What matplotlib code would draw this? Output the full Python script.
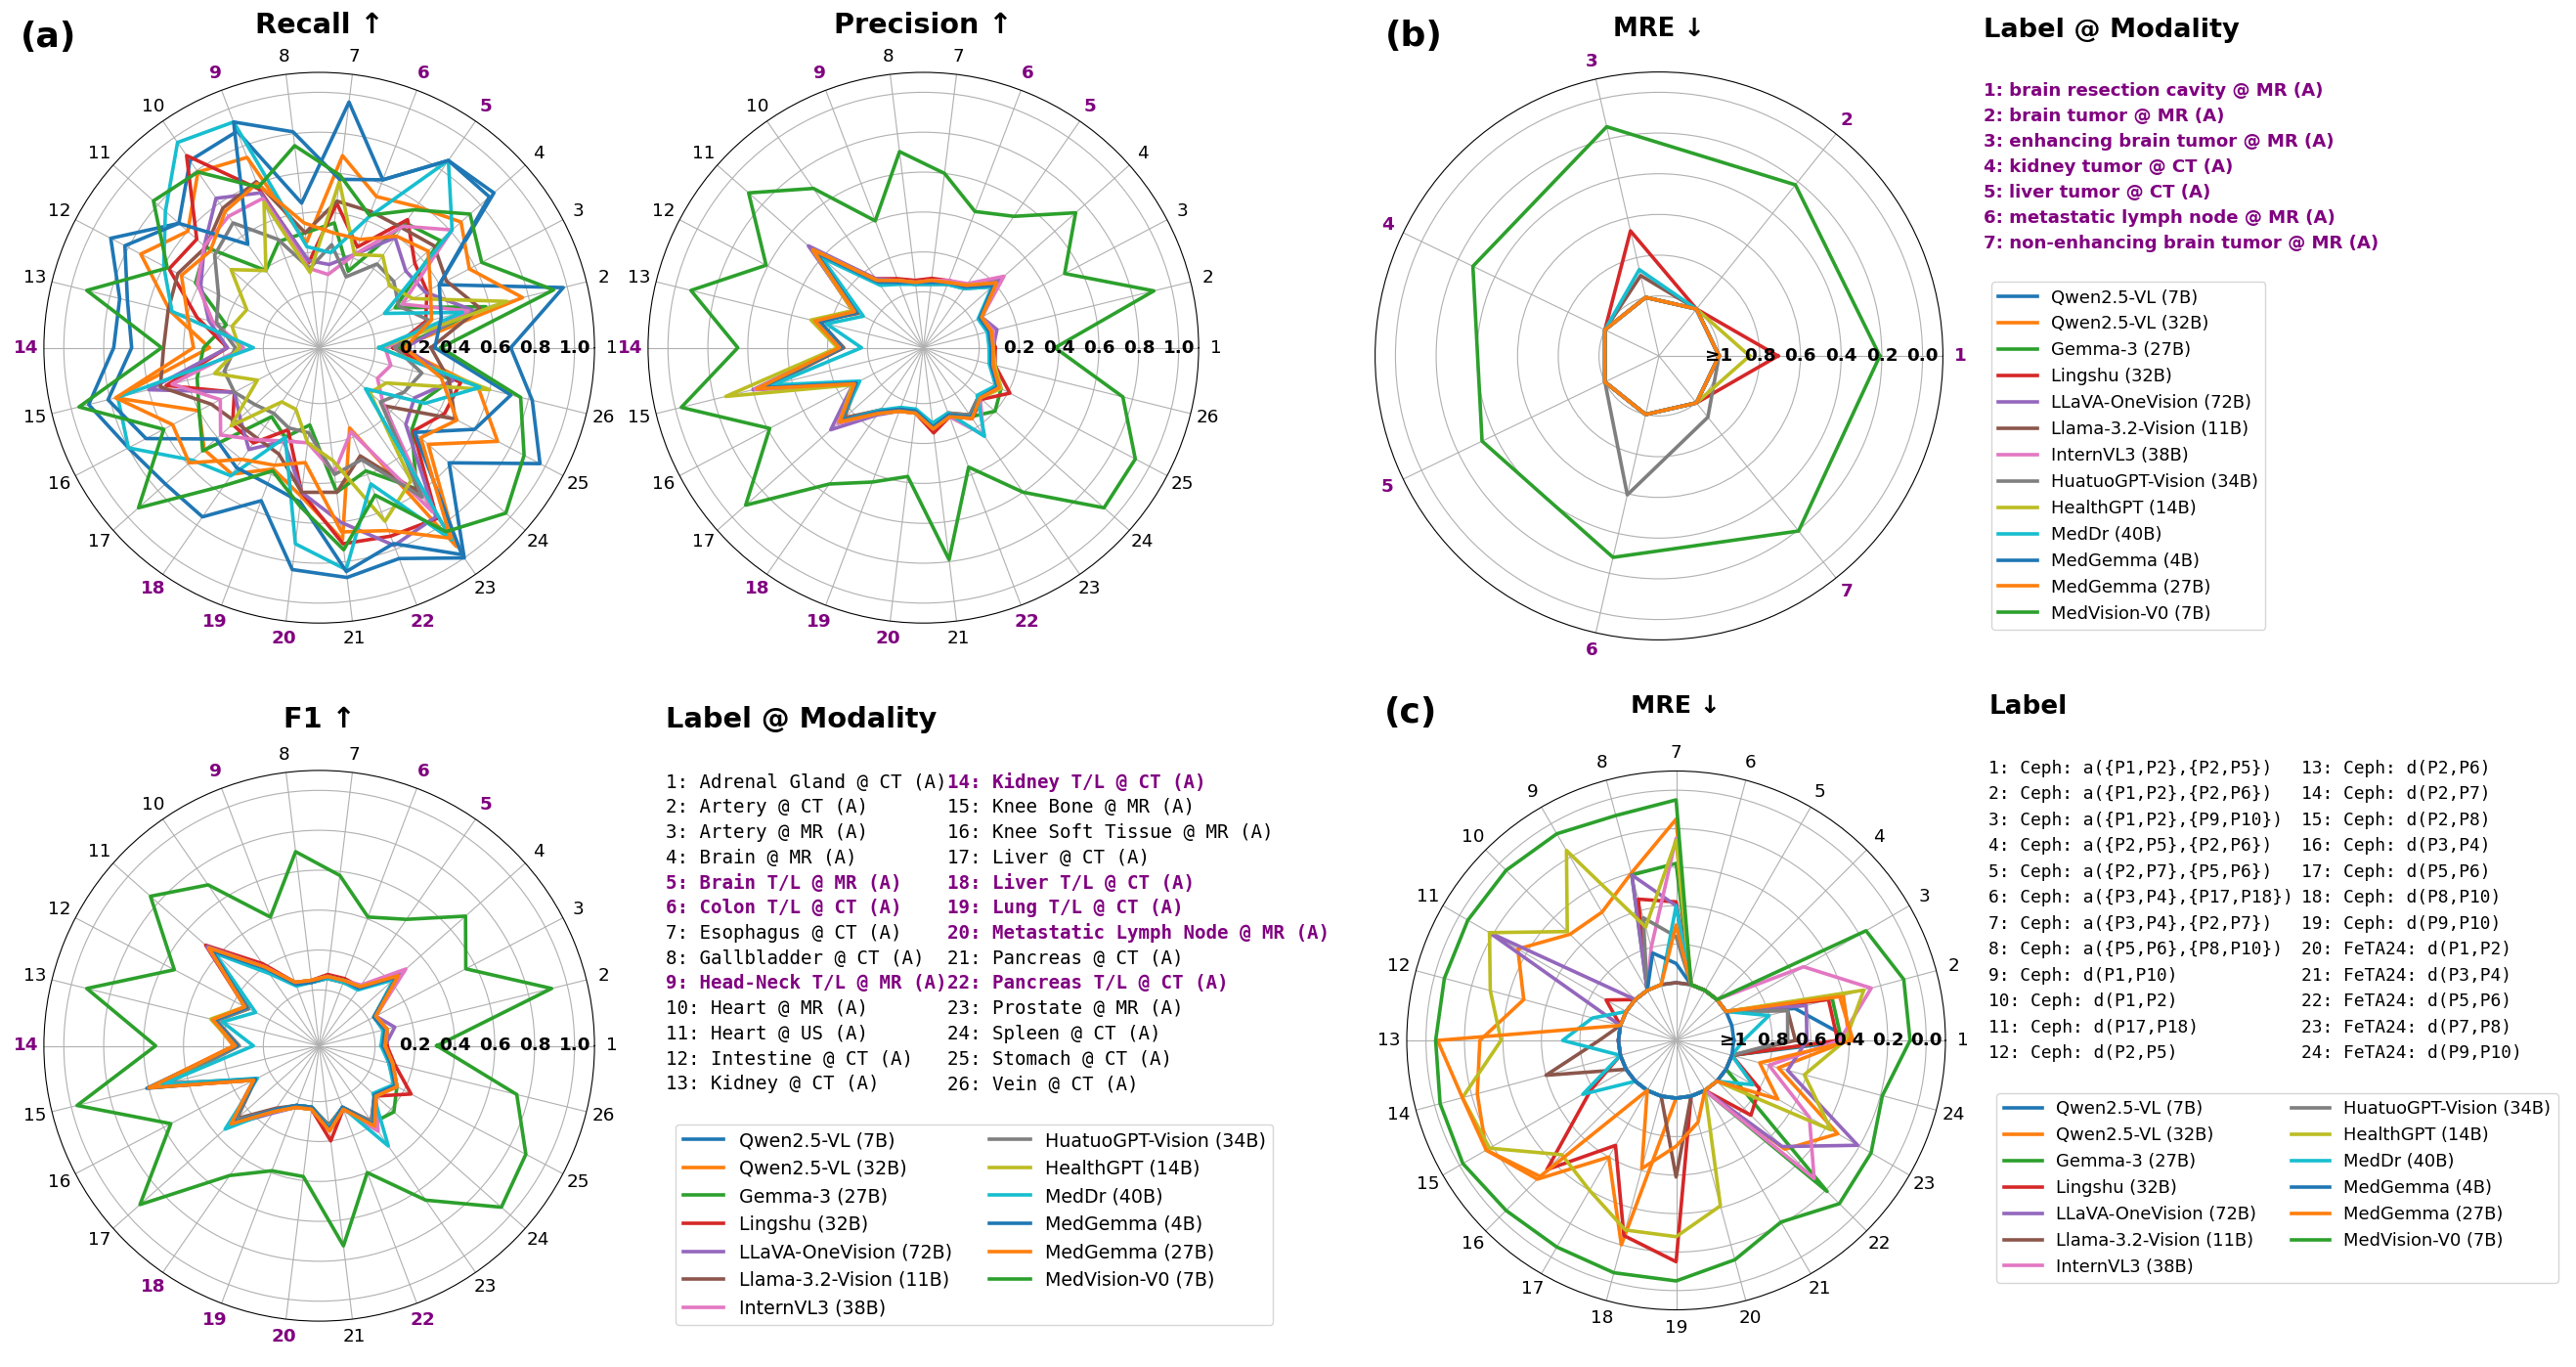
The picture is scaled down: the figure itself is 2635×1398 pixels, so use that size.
import numpy as np
import matplotlib
matplotlib.use("Agg")
import matplotlib.pyplot as plt
from matplotlib.lines import Line2D

# ---------------- data ----------------
models = ["Qwen2.5-VL (7B)", "Qwen2.5-VL (32B)", "Gemma-3 (27B)", "Lingshu (32B)",
          "LLaVA-OneVision (72B)", "Llama-3.2-Vision (11B)", "InternVL3 (38B)",
          "HuatuoGPT-Vision (34B)", "HealthGPT (14B)", "MedDr (40B)", "MedGemma (4B)",
          "MedGemma (27B)", "MedVision-V0 (7B)"]
colors = ["#1f77b4", "#ff7f0e", "#2ca02c", "#d62728", "#9467bd", "#8c564b", "#e377c2",
          "#7f7f7f", "#bcbd22", "#17becf", "#1f77b4", "#ff7f0e", "#2ca02c"]

a_labels = ["Adrenal Gland @ CT (A)", "Artery @ CT (A)", "Artery @ MR (A)", "Brain @ MR (A)",
            "Brain T/L @ MR (A)", "Colon T/L @ CT (A)", "Esophagus @ CT (A)", "Gallbladder @ CT (A)",
            "Head-Neck T/L @ MR (A)", "Heart @ MR (A)", "Heart @ US (A)", "Intestine @ CT (A)",
            "Kidney @ CT (A)", "Kidney T/L @ CT (A)", "Knee Bone @ MR (A)", "Knee Soft Tissue @ MR (A)",
            "Liver @ CT (A)", "Liver T/L @ CT (A)", "Lung T/L @ CT (A)", "Metastatic Lymph Node @ MR (A)",
            "Pancreas @ CT (A)", "Pancreas T/L @ CT (A)", "Prostate @ MR (A)", "Spleen @ CT (A)",
            "Stomach @ CT (A)", "Vein @ CT (A)"]
a_highlight = [5, 6, 9, 14, 18, 19, 20, 22]

b_labels = ["brain resection cavity @ MR (A)", "brain tumor @ MR (A)", "enhancing brain tumor @ MR (A)",
            "kidney tumor @ CT (A)", "liver tumor @ CT (A)", "metastatic lymph node @ MR (A)",
            "non-enhancing brain tumor @ MR (A)"]

c_labels = ["Ceph: a({P1,P2},{P2,P5})", "Ceph: a({P1,P2},{P2,P6})", "Ceph: a({P1,P2},{P9,P10})",
            "Ceph: a({P2,P5},{P2,P6})", "Ceph: a({P2,P7},{P5,P6})", "Ceph: a({P3,P4},{P17,P18})",
            "Ceph: a({P3,P4},{P2,P7})", "Ceph: a({P5,P6},{P8,P10})", "Ceph: d(P1,P10)", "Ceph: d(P1,P2)",
            "Ceph: d(P17,P18)", "Ceph: d(P2,P5)", "Ceph: d(P2,P6)", "Ceph: d(P2,P7)", "Ceph: d(P2,P8)",
            "Ceph: d(P3,P4)", "Ceph: d(P5,P6)", "Ceph: d(P8,P10)", "Ceph: d(P9,P10)", "FeTA24: d(P1,P2)",
            "FeTA24: d(P3,P4)", "FeTA24: d(P5,P6)", "FeTA24: d(P7,P8)", "FeTA24: d(P9,P10)"]

a_rticks = [0.0, 0.2, 0.4, 0.6, 0.8, 1.0]
a_rticklabels = ["", "0.2", "0.4", "0.6", "0.8", "1.0"]
mre_rticks = [0.0, 0.2, 0.4, 0.6, 0.8, 1.0]
mre_rticklabels = ["\u22651", "0.8", "0.6", "0.4", "0.2", "0.0"]

# Recall (26 labels)
recall_qwen7 = [0.68, 0.98, 0.40, 0.89, 0.86, 0.62, 0.96, 0.45, 0.88, 0.86, 0.66, 0.90, 0.75, 0.75, 0.91, 0.80, 0.75, 0.75, 0.54, 0.84, 0.88, 0.85, 1.00, 0.59, 0.97, 0.82]
recall_qwen32 = [0.12, 0.77, 0.57, 0.67, 0.58, 0.53, 0.69, 0.25, 0.74, 0.79, 0.60, 0.73, 0.49, 0.27, 0.77, 0.40, 0.49, 0.49, 0.37, 0.47, 0.69, 0.15, 0.93, 0.45, 0.73, 0.54]
recall_gemma = [0.12, 0.58, 0.15, 0.53, 0.48, 0.13, 0.35, 0.30, 0.29, 0.19, 0.48, 0.42, 0.20, 0.30, 0.35, 0.40, 0.50, 0.14, 0.20, 0.11, 0.45, 0.38, 0.58, 0.34, 0.30, 0.40]
recall_lingshu = [0.09, 0.27, 0.33, 0.36, 0.50, 0.26, 0.45, 0.15, 0.57, 0.89, 0.54, 0.57, 0.35, 0.18, 0.51, 0.20, 0.30, 0.30, 0.16, 0.45, 0.71, 0.73, 0.76, 0.35, 0.43, 0.45]
recall_llava = [0.15, 0.51, 0.32, 0.30, 0.39, 0.22, 0.14, 0.16, 0.55, 0.63, 0.49, 0.39, 0.29, 0.18, 0.60, 0.20, 0.25, 0.34, 0.22, 0.45, 0.60, 0.78, 0.75, 0.30, 0.26, 0.41]
recall_llama = [0.28, 0.55, 0.44, 0.49, 0.45, 0.45, 0.46, 0.30, 0.61, 0.57, 0.48, 0.52, 0.50, 0.50, 0.54, 0.33, 0.28, 0.27, 0.29, 0.45, 0.45, 0.30, 0.60, 0.16, 0.49, 0.39]
recall_intern = [0.05, 0.49, 0.19, 0.61, 0.46, 0.22, 0.09, 0.12, 0.52, 0.52, 0.49, 0.41, 0.27, 0.10, 0.48, 0.28, 0.38, 0.28, 0.22, 0.20, 0.35, 0.17, 0.72, 0.15, 0.05, 0.09]
recall_huatuo = [0.10, 0.29, 0.17, 0.22, 0.23, 0.10, 0.24, 0.12, 0.30, 0.48, 0.42, 0.29, 0.25, 0.14, 0.21, 0.20, 0.15, 0.12, 0.15, 0.15, 0.36, 0.32, 0.63, 0.13, 0.20, 0.25]
recall_healthgpt = [0.02, 0.69, 0.25, 0.19, 0.28, 0.22, 0.56, 0.10, 0.50, 0.19, 0.31, 0.13, 0.17, 0.12, 0.26, 0.07, 0.31, 0.05, 0.05, 0.20, 0.29, 0.65, 0.53, 0.06, 0.10, 0.60]
recall_meddr = [0.02, 0.46, 0.09, 0.61, 0.86, 0.42, 0.20, 0.23, 0.93, 0.97, 0.75, 0.60, 0.48, 0.05, 0.76, 0.80, 0.57, 0.50, 0.20, 0.71, 0.84, 0.45, 0.89, 0.03, 0.32, 0.55]
recall_medgemma4 = [0.30, 0.35, 0.40, 0.86, 0.86, 0.62, 0.57, 0.81, 0.93, 0.35, 0.66, 0.82, 0.71, 0.66, 0.81, 0.70, 0.41, 0.45, 0.45, 0.50, 0.85, 0.77, 0.98, 0.36, 0.60, 0.71]
recall_medgemma27 = [0.15, 0.30, 0.35, 0.45, 0.40, 0.30, 0.30, 0.35, 0.60, 0.55, 0.45, 0.50, 0.40, 0.35, 0.77, 0.55, 0.59, 0.40, 0.35, 0.30, 0.65, 0.70, 0.88, 0.40, 0.50, 0.35]
recall_medvision = [0.33, 0.93, 0.64, 0.73, 0.56, 0.43, 0.59, 0.74, 0.58, 0.79, 0.83, 0.58, 0.92, 0.51, 0.96, 0.60, 0.93, 0.56, 0.38, 0.52, 0.74, 0.51, 0.84, 0.97, 0.88, 0.76]

# Precision
prec_qwen7 = [0.06, 0.06, 0.04, 0.19, 0.09, 0.07, 0.05, 0.04, 0.07, 0.12, 0.44, 0.10, 0.25, 0.12, 0.55, 0.10, 0.26, 0.10, 0.05, 0.04, 0.12, 0.08, 0.13, 0.09, 0.13, 0.07]
prec_qwen32 = [0.07, 0.07, 0.05, 0.21, 0.10, 0.08, 0.06, 0.05, 0.08, 0.13, 0.45, 0.11, 0.27, 0.13, 0.58, 0.12, 0.27, 0.12, 0.06, 0.04, 0.13, 0.09, 0.15, 0.10, 0.15, 0.08]
prec_gemma = [0.06, 0.06, 0.05, 0.20, 0.09, 0.07, 0.05, 0.05, 0.08, 0.12, 0.44, 0.11, 0.26, 0.13, 0.57, 0.10, 0.28, 0.11, 0.05, 0.05, 0.12, 0.08, 0.14, 0.20, 0.16, 0.08]
prec_lingshu = [0.08, 0.07, 0.05, 0.22, 0.10, 0.08, 0.07, 0.06, 0.09, 0.14, 0.47, 0.12, 0.27, 0.14, 0.56, 0.11, 0.29, 0.12, 0.06, 0.05, 0.15, 0.09, 0.15, 0.11, 0.21, 0.09]
prec_llava = [0.07, 0.10, 0.05, 0.24, 0.10, 0.07, 0.05, 0.05, 0.08, 0.14, 0.49, 0.11, 0.28, 0.14, 0.60, 0.12, 0.34, 0.13, 0.06, 0.04, 0.13, 0.08, 0.14, 0.10, 0.15, 0.08]
prec_llama = [0.06, 0.06, 0.04, 0.20, 0.09, 0.06, 0.05, 0.05, 0.07, 0.12, 0.45, 0.09, 0.27, 0.12, 0.52, 0.09, 0.25, 0.10, 0.05, 0.04, 0.11, 0.07, 0.13, 0.09, 0.13, 0.07]
prec_intern = [0.07, 0.08, 0.05, 0.26, 0.11, 0.08, 0.06, 0.05, 0.08, 0.13, 0.46, 0.11, 0.27, 0.13, 0.59, 0.11, 0.29, 0.12, 0.06, 0.05, 0.12, 0.09, 0.25, 0.10, 0.15, 0.08]
prec_huatuo = [0.05, 0.06, 0.04, 0.18, 0.08, 0.06, 0.04, 0.04, 0.07, 0.11, 0.43, 0.10, 0.26, 0.13, 0.55, 0.10, 0.27, 0.11, 0.05, 0.04, 0.11, 0.07, 0.13, 0.09, 0.14, 0.07]
prec_healthgpt = [0.07, 0.07, 0.05, 0.21, 0.10, 0.07, 0.05, 0.05, 0.08, 0.13, 0.46, 0.12, 0.30, 0.15, 0.74, 0.12, 0.28, 0.12, 0.06, 0.05, 0.12, 0.08, 0.14, 0.10, 0.16, 0.09]
prec_meddr = [0.05, 0.05, 0.03, 0.18, 0.08, 0.06, 0.04, 0.04, 0.06, 0.10, 0.40, 0.06, 0.22, 0.03, 0.50, 0.08, 0.27, 0.10, 0.04, 0.03, 0.10, 0.07, 0.26, 0.08, 0.13, 0.06]
prec_medgemma4 = [0.06, 0.06, 0.04, 0.19, 0.09, 0.07, 0.05, 0.05, 0.07, 0.12, 0.44, 0.10, 0.26, 0.13, 0.56, 0.10, 0.27, 0.11, 0.05, 0.04, 0.12, 0.08, 0.14, 0.10, 0.14, 0.07]
prec_medgemma27 = [0.07, 0.07, 0.05, 0.21, 0.10, 0.07, 0.06, 0.05, 0.08, 0.13, 0.46, 0.11, 0.28, 0.14, 0.58, 0.11, 0.28, 0.12, 0.06, 0.05, 0.13, 0.09, 0.15, 0.10, 0.15, 0.08]
prec_medvision = [0.38, 0.91, 0.52, 0.74, 0.52, 0.45, 0.60, 0.71, 0.40, 0.69, 0.89, 0.61, 0.92, 0.65, 0.97, 0.59, 0.91, 0.55, 0.44, 0.37, 0.79, 0.36, 0.60, 0.93, 0.92, 0.75]

# F1
f1_qwen7 = [0.04, 0.06, 0.03, 0.23, 0.07, 0.07, 0.07, 0.04, 0.05, 0.18, 0.44, 0.13, 0.25, 0.13, 0.60, 0.08, 0.29, 0.11, 0.04, 0.03, 0.14, 0.05, 0.19, 0.09, 0.15, 0.09]
f1_qwen32 = [0.05, 0.07, 0.04, 0.25, 0.08, 0.07, 0.07, 0.05, 0.06, 0.20, 0.45, 0.14, 0.27, 0.15, 0.60, 0.09, 0.30, 0.12, 0.05, 0.04, 0.15, 0.06, 0.20, 0.10, 0.16, 0.10]
f1_gemma = [0.04, 0.06, 0.03, 0.24, 0.07, 0.06, 0.07, 0.04, 0.05, 0.19, 0.44, 0.12, 0.25, 0.13, 0.57, 0.08, 0.30, 0.11, 0.04, 0.03, 0.13, 0.05, 0.19, 0.22, 0.16, 0.09]
f1_lingshu = [0.06, 0.07, 0.04, 0.26, 0.08, 0.08, 0.08, 0.05, 0.06, 0.22, 0.48, 0.14, 0.26, 0.14, 0.58, 0.09, 0.31, 0.12, 0.05, 0.04, 0.20, 0.06, 0.21, 0.10, 0.24, 0.11]
f1_llava = [0.05, 0.11, 0.04, 0.26, 0.08, 0.07, 0.07, 0.04, 0.05, 0.20, 0.47, 0.13, 0.27, 0.14, 0.59, 0.09, 0.32, 0.13, 0.05, 0.03, 0.14, 0.05, 0.20, 0.09, 0.16, 0.10]
f1_llama = [0.04, 0.06, 0.03, 0.23, 0.07, 0.06, 0.06, 0.04, 0.05, 0.18, 0.45, 0.12, 0.26, 0.13, 0.52, 0.08, 0.27, 0.10, 0.04, 0.03, 0.12, 0.05, 0.18, 0.09, 0.15, 0.08]
f1_intern = [0.05, 0.07, 0.04, 0.30, 0.09, 0.07, 0.07, 0.05, 0.06, 0.20, 0.46, 0.13, 0.27, 0.14, 0.56, 0.09, 0.30, 0.12, 0.05, 0.04, 0.14, 0.06, 0.24, 0.10, 0.16, 0.09]
f1_huatuo = [0.04, 0.05, 0.03, 0.22, 0.07, 0.06, 0.06, 0.04, 0.05, 0.17, 0.43, 0.12, 0.25, 0.12, 0.50, 0.08, 0.28, 0.11, 0.04, 0.03, 0.13, 0.05, 0.18, 0.09, 0.15, 0.08]
f1_healthgpt = [0.05, 0.07, 0.04, 0.24, 0.08, 0.07, 0.07, 0.05, 0.06, 0.19, 0.45, 0.14, 0.28, 0.14, 0.57, 0.09, 0.30, 0.12, 0.05, 0.04, 0.14, 0.06, 0.20, 0.10, 0.16, 0.10]
f1_meddr = [0.03, 0.05, 0.03, 0.22, 0.06, 0.06, 0.06, 0.04, 0.04, 0.16, 0.42, 0.08, 0.22, 0.05, 0.53, 0.07, 0.35, 0.11, 0.04, 0.03, 0.13, 0.05, 0.33, 0.08, 0.14, 0.08]
f1_medgemma4 = [0.04, 0.06, 0.03, 0.24, 0.07, 0.07, 0.07, 0.04, 0.05, 0.19, 0.44, 0.13, 0.26, 0.13, 0.61, 0.08, 0.30, 0.11, 0.04, 0.03, 0.14, 0.05, 0.20, 0.09, 0.15, 0.09]
f1_medgemma27 = [0.05, 0.07, 0.04, 0.25, 0.08, 0.07, 0.07, 0.05, 0.06, 0.20, 0.46, 0.14, 0.27, 0.14, 0.60, 0.09, 0.31, 0.12, 0.05, 0.04, 0.15, 0.06, 0.21, 0.10, 0.16, 0.10]
f1_medvision = [0.31, 0.92, 0.55, 0.70, 0.49, 0.41, 0.58, 0.70, 0.41, 0.70, 0.85, 0.54, 0.92, 0.54, 0.97, 0.56, 0.92, 0.51, 0.39, 0.38, 0.73, 0.40, 0.66, 0.94, 0.89, 0.74]

# (b) MRE, 7 labels (values >= 1 shown at the inner ring)
mreb_qwen7 = [1.00, 1.00, 1.00, 1.00, 1.00, 1.00, 1.00]
mreb_qwen32 = [1.00, 1.00, 1.00, 1.00, 1.00, 1.00, 1.00]
mreb_gemma = [1.00, 1.00, 1.00, 1.00, 1.00, 1.00, 1.00]
mreb_lingshu = [0.71, 1.00, 0.665, 1.00, 1.00, 1.00, 1.00]
mreb_llava = [1.00, 1.00, 1.00, 1.00, 1.00, 1.00, 1.00]
mreb_llama = [1.00, 1.00, 0.89, 1.00, 1.00, 1.00, 1.00]
mreb_intern = [1.00, 1.00, 1.00, 1.00, 1.00, 1.00, 1.00]
mreb_huatuo = [1.00, 1.00, 1.00, 1.00, 1.00, 0.595, 0.91]
mreb_healthgpt = [0.85, 1.00, 1.00, 1.00, 1.00, 1.00, 1.00]
mreb_meddr = [1.00, 1.00, 0.86, 1.00, 1.00, 1.00, 1.00]
mreb_medgemma4 = [1.00, 1.00, 1.00, 1.00, 1.00, 1.00, 1.00]
mreb_medgemma27 = [1.00, 1.00, 1.00, 1.00, 1.00, 1.00, 1.00]
mreb_medvision = [0.21, 0.22, 0.14, 0.28, 0.33, 0.28, 0.195]

# (c) MRE, 24 labels
mrec_qwen7 = [0.38, 0.66, 1.00, 1.00, 1.00, 1.00, 1.00, 1.00, 1.00, 1.00, 1.00, 1.00, 1.00, 1.00, 1.00, 1.00, 1.00, 1.00, 1.00, 1.00, 1.00, 1.00, 1.00, 1.00]
mrec_qwen32 = [0.40, 0.40, 1.00, 1.00, 1.00, 1.00, 0.15, 0.40, 0.53, 0.52, 0.35, 0.48, 0.28, 0.23, 0.16, 0.28, 0.60, 0.20, 1.00, 1.00, 1.00, 0.50, 0.33, 0.75]
mrec_gemma = [0.44, 0.46, 1.00, 1.00, 1.00, 1.00, 0.38, 0.41, 1.00, 1.00, 1.00, 1.00, 1.00, 1.00, 1.00, 1.00, 1.00, 1.00, 1.00, 1.00, 1.00, 0.19, 1.00, 1.00]
mrec_lingshu = [0.46, 0.48, 1.00, 1.00, 1.00, 1.00, 0.58, 0.54, 1.00, 1.00, 0.88, 1.00, 1.00, 1.00, 0.79, 0.35, 0.67, 0.25, 0.15, 1.00, 1.00, 0.75, 0.80, 1.00]
mrec_llava = [0.62, 0.60, 1.00, 1.00, 1.00, 1.00, 0.60, 0.41, 1.00, 1.00, 0.18, 1.00, 1.00, 1.00, 1.00, 1.00, 1.00, 1.00, 1.00, 1.00, 1.00, 0.52, 0.21, 0.70]
mrec_llama = [0.68, 0.70, 1.00, 1.00, 1.00, 1.00, 1.00, 1.00, 1.00, 1.00, 1.00, 1.00, 0.90, 0.60, 1.00, 1.00, 1.00, 1.00, 0.59, 1.00, 1.00, 1.00, 1.00, 1.00]
mrec_intern = [0.45, 0.25, 0.535, 1.00, 1.00, 1.00, 0.25, 0.80, 1.00, 1.00, 1.00, 1.00, 1.00, 1.00, 1.00, 1.00, 1.00, 1.00, 1.00, 1.00, 1.00, 0.285, 0.50, 0.80]
mrec_huatuo = [0.72, 0.70, 1.00, 1.00, 1.00, 1.00, 0.76, 0.64, 1.00, 1.00, 1.00, 1.00, 1.00, 1.00, 1.00, 1.00, 1.00, 1.00, 1.00, 1.00, 1.00, 1.00, 1.00, 1.00]
mrec_healthgpt = [0.42, 0.29, 1.00, 1.00, 1.00, 1.00, 0.26, 0.69, 0.16, 0.50, 0.18, 0.30, 0.39, 0.15, 0.18, 0.46, 0.40, 0.28, 0.28, 0.41, 1.00, 1.00, 0.37, 0.61]
mrec_meddr = [0.95, 0.80, 1.00, 1.00, 1.00, 1.00, 0.60, 1.00, 1.00, 1.00, 1.00, 0.85, 0.71, 1.00, 0.74, 1.00, 1.00, 1.00, 1.00, 1.00, 1.00, 1.00, 0.84, 1.00]
mrec_medgemma4 = [1.00, 1.00, 1.00, 1.00, 1.00, 1.00, 0.90, 0.83, 1.00, 1.00, 1.00, 1.00, 1.00, 1.00, 1.00, 1.00, 1.00, 1.00, 1.00, 1.00, 1.00, 1.00, 1.00, 1.00]
mrec_medgemma27 = [0.38, 0.42, 1.00, 1.00, 1.00, 1.00, 0.70, 1.00, 1.00, 1.00, 1.00, 1.00, 0.06, 0.15, 0.16, 0.30, 1.00, 0.61, 0.75, 0.86, 1.00, 1.00, 0.69, 0.85]
mrec_medvision = [0.084, 0.075, 0.16, 1.00, 1.00, 1.00, 0.05, 0.09, 0.06, 0.05, 0.05, 0.053, 0.05, 0.03, 0.02, 0.05, 0.06, 0.05, 0.05, 0.12, 0.21, 0.10, 0.13, 0.19]

recall_all = [recall_qwen7, recall_qwen32, recall_gemma, recall_lingshu, recall_llava, recall_llama, recall_intern,
              recall_huatuo, recall_healthgpt, recall_meddr, recall_medgemma4, recall_medgemma27, recall_medvision]
prec_all = [prec_qwen7, prec_qwen32, prec_gemma, prec_lingshu, prec_llava, prec_llama, prec_intern,
            prec_huatuo, prec_healthgpt, prec_meddr, prec_medgemma4, prec_medgemma27, prec_medvision]
f1_all = [f1_qwen7, f1_qwen32, f1_gemma, f1_lingshu, f1_llava, f1_llama, f1_intern,
          f1_huatuo, f1_healthgpt, f1_meddr, f1_medgemma4, f1_medgemma27, f1_medvision]
mreb_all = [mreb_qwen7, mreb_qwen32, mreb_gemma, mreb_lingshu, mreb_llava, mreb_llama, mreb_intern,
            mreb_huatuo, mreb_healthgpt, mreb_meddr, mreb_medgemma4, mreb_medgemma27, mreb_medvision]
mrec_all = [mrec_qwen7, mrec_qwen32, mrec_gemma, mrec_lingshu, mrec_llava, mrec_llama, mrec_intern,
            mrec_huatuo, mrec_healthgpt, mrec_meddr, mrec_medgemma4, mrec_medgemma27, mrec_medvision]

# ---------------- figure ----------------
W, H = 2635, 1398
DPI = 100
fig = plt.figure(figsize=(W / DPI, H / DPI), dpi=DPI)
PURPLE = "#800080"
LW = 2.6


def polar_at(cx, cy, R):
    return fig.add_axes([(cx - R) / W, 1 - (cy + R) / H, 2 * R / W, 2 * R / H], projection="polar")


def radar(ax, series, ylim, rticks, rticklabels, highlight, all_purple=False, mre=False,
          tfs=13.2, rfs=13.2):
    n = len(series[0])
    angles = np.arange(n) * 2 * np.pi / n
    for vals, col in zip(series, colors):
        v = np.asarray(vals, dtype=float)
        if mre:
            v = 1.0 - np.minimum(v, 1.0)
        ax.plot(np.append(angles, angles[0]), np.append(v, v[0]), color=col, lw=LW)
    ax.set_ylim(*ylim)
    ax.set_yticks(rticks)
    ax.set_yticklabels([])
    for t, lab in zip(rticks, rticklabels):
        ax.text(0, t, lab, ha="center", va="center", fontsize=rfs, fontweight="bold", zorder=20)
    ax.set_xticks(angles)
    ax.set_xticklabels([str(i + 1) for i in range(n)], fontsize=tfs)
    ax.tick_params(axis="x", pad=2.5)
    for i, tl in enumerate(ax.get_xticklabels()):
        if all_purple or (i + 1) in highlight:
            tl.set_color(PURPLE)
            tl.set_fontweight("bold")
    ax.grid(True, color="#b0b0b0", lw=0.8)
    ax.spines["polar"].set_linewidth(0.8)


# (a)
ax_r = polar_at(326.5, 355.6, 281.6)
radar(ax_r, recall_all, (-0.28, 1.1), a_rticks, a_rticklabels, a_highlight)
ax_p = polar_at(944.5, 355.6, 281.6)
radar(ax_p, prec_all, (-0.28, 1.1), a_rticks, a_rticklabels, a_highlight)
ax_f = polar_at(326.5, 1069.5, 281.6)
radar(ax_f, f1_all, (-0.28, 1.1), a_rticks, a_rticklabels, a_highlight)
# (b)
ax_b = polar_at(1697, 364, 290.4)
radar(ax_b, mreb_all, (-0.295, 1.1), mre_rticks, mre_rticklabels, [], all_purple=True, mre=True)
# (c)
ax_c = polar_at(1714.5, 1064, 275.5)
radar(ax_c, mrec_all, (-0.30, 1.1), mre_rticks, mre_rticklabels, [], mre=True)


def ftext(x, y, s, **kw):
    fig.text(x / W, 1 - y / H, s, **kw)


# titles
ftext(326.5, 26, "Recall \u2191", ha="center", va="center", fontsize=20.7, fontweight="bold")
ftext(944.5, 26, "Precision \u2191", ha="center", va="center", fontsize=20.7, fontweight="bold")
ftext(326.5, 736, "F1 \u2191", ha="center", va="center", fontsize=20.7, fontweight="bold")
ftext(1697, 30, "MRE \u2193", ha="center", va="center", fontsize=18.6, fontweight="bold")
ftext(1713.5, 722, "MRE \u2193", ha="center", va="center", fontsize=18.2, fontweight="bold")
ftext(50, 38, "(a)", ha="center", va="center", fontsize=26, fontweight="bold")
ftext(1446.5, 37, "(b)", ha="center", va="center", fontsize=26, fontweight="bold")
ftext(1442.6, 728.5, "(c)", ha="center", va="center", fontsize=26, fontweight="bold")

# (a) label list
ftext(681.5, 736, "Label @ Modality", ha="left", va="center", fontsize=20.8, fontweight="bold")
for i, lab in enumerate(a_labels):
    col_i, row = divmod(i, 13)
    x = 681.5 if col_i == 0 else 969.4
    y = 800 + 25.75 * row
    hl = (i + 1) in a_highlight
    ftext(x, y, f"{i + 1}: {lab}", ha="left", va="center", fontsize=13.75,
          family="DejaVu Sans Mono", color=PURPLE if hl else "black",
          fontweight="bold" if hl else "normal")

handles = [Line2D([0], [0], color=c, lw=LW) for c in colors]
fig.legend(handles, models, loc="upper left", bbox_to_anchor=(691 / W, 1 - 1149.5 / H),
           bbox_transform=fig.transFigure, ncol=2, fontsize=13.7, borderaxespad=0,
           handlelength=2.2, columnspacing=2.0)

# (b) label list
ftext(2029, 31, "Label @ Modality", ha="left", va="center", fontsize=19.6, fontweight="bold")
for i, lab in enumerate(b_labels):
    ftext(2029, 93.2 + 26.0 * i, f"{i + 1}: {lab}", ha="left", va="center", fontsize=13.1,
          fontweight="bold", color=PURPLE)
fig.legend(handles, models, loc="upper left", bbox_to_anchor=(2037.3 / W, 1 - 288.4 / H),
           bbox_transform=fig.transFigure, ncol=1, fontsize=12.85, borderaxespad=0,
           handlelength=2.2)

# (c) label list
ftext(2034.4, 722.5, "Label", ha="left", va="center", fontsize=18.9, fontweight="bold")
for i, lab in enumerate(c_labels):
    col_i, row = divmod(i, 12)
    x = 2034.4 if col_i == 0 else 2354.4
    ftext(x, 785.7 + 26.5 * row, f"{i + 1}: {lab}", ha="left", va="center", fontsize=12.9,
          family="DejaVu Sans Mono")
fig.legend(handles, models, loc="upper left", bbox_to_anchor=(2042.5 / W, 1 - 1118 / H),
           bbox_transform=fig.transFigure, ncol=2, fontsize=12.85, borderaxespad=0,
           handlelength=2.2, columnspacing=2.0)

fig.savefig("out.png", dpi=DPI)
